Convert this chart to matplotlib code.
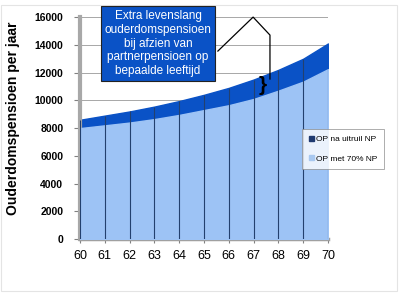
import numpy as np
import matplotlib
matplotlib.use('Agg')
import matplotlib.pyplot as plt
from matplotlib.patches import Rectangle

# data
ages = [60, 61, 62, 63, 64, 65, 66, 67, 68, 69, 70]
op_na_uitruil = [8600, 8900, 9200, 9550, 9950, 10400, 10900, 11500, 12200, 13000, 14100]
op_met_70_np = [8000, 8200, 8400, 8650, 8950, 9300, 9650, 10100, 10700, 11350, 12250]
y_ticks = [0, 2000, 4000, 6000, 8000, 10000, 12000, 14000, 16000]

dark_blue = '#0A52C6'
light_blue = '#9DC3F5'
line_col = '#23406E'

def main():
    plt.rcParams['font.family'] = ['Liberation Sans', 'DejaVu Sans']
    fig = plt.figure(figsize=(4, 3), dpi=100)
    ax = fig.add_axes([0.2, 0.203, 0.62, 0.74])

    ax.fill_between(ages, 0, op_na_uitruil, color=dark_blue, label='OP na uitruil NP', zorder=2)
    ax.fill_between(ages, 0, op_met_70_np, color=light_blue, label='OP met 70% NP', zorder=3)
    ax.vlines(ages, 0, op_na_uitruil, color=line_col, linewidth=0.8, zorder=4)

    ax.set_xlim(ages[0], ages[-1])
    ax.set_ylim(0, 16000)
    ax.set_xticks(ages)
    ax.set_yticks(y_ticks)
    ax.set_yticklabels([str(v) for v in y_ticks], fontweight='bold', fontsize=7.5)
    ax.tick_params(axis='x', labelsize=9, length=3, color='gray', pad=5)
    ax.tick_params(axis='y', length=4, color='gray', pad=8)
    ax.grid(axis='y', color='#999999', linewidth=0.6, zorder=0)
    ax.set_axisbelow(True)

    for s in ['top', 'right']:
        ax.spines[s].set_visible(False)
    ax.spines['left'].set_color('#A8A8A8')
    ax.spines['left'].set_linewidth(3)
    ax.spines['bottom'].set_color('#A0A0A0')
    ax.spines['bottom'].set_linewidth(2.5)

    ax.set_ylabel('Ouderdomspensioen per jaar', fontsize=10, fontweight='bold')
    ax.yaxis.set_label_coords(-0.24, 0.545)

    # legend
    handles, labels = ax.get_legend_handles_labels()
    leg = ax.legend(handles, labels, loc='upper left', bbox_to_anchor=(0.895, 0.495),
                    fontsize=6, frameon=True, fancybox=False, handlelength=0.6,
                    handleheight=0.6, handletextpad=0.3, labelspacing=1.4,
                    borderpad=0.8, borderaxespad=0)
    leg.get_frame().set_edgecolor('#888888')
    leg.get_frame().set_linewidth(0.6)
    leg.legend_handles[0].set_color('#1F3A70')
    leg.legend_handles[1].set_color('#A8C8F0')

    # annotation box with explanation
    fig.text(0.395, 0.855,
             'Extra levenslang\nouderdomspensioen\nbij afzien van\npartnerpensioen op\nbepaalde leeftijd',
             ha='center', va='center', color='white', fontsize=8.5, linespacing=1.2,
             bbox=dict(boxstyle='square,pad=0.3', facecolor=dark_blue, edgecolor='#222222',
                       linewidth=0.8))

    # pointer lines from box to brace
    ax.plot([0.556, 0.698, 0.766, 0.766], [0.847, 1.0, 0.919, 0.721],
            transform=ax.transAxes, color='black', linewidth=0.9, clip_on=False, zorder=6)
    ax.text(0.735, 0.69, '}', transform=ax.transAxes, fontsize=15, fontweight='bold',
            ha='center', va='center', color='black', zorder=6)

    fig.add_artist(Rectangle((0.003, 0.03), 0.99, 0.955, transform=fig.transFigure,
                             fill=False, edgecolor='#E4E4E4', linewidth=0.8))

    fig.savefig('out.png', dpi=100)

if __name__ == "__main__":
    main()
